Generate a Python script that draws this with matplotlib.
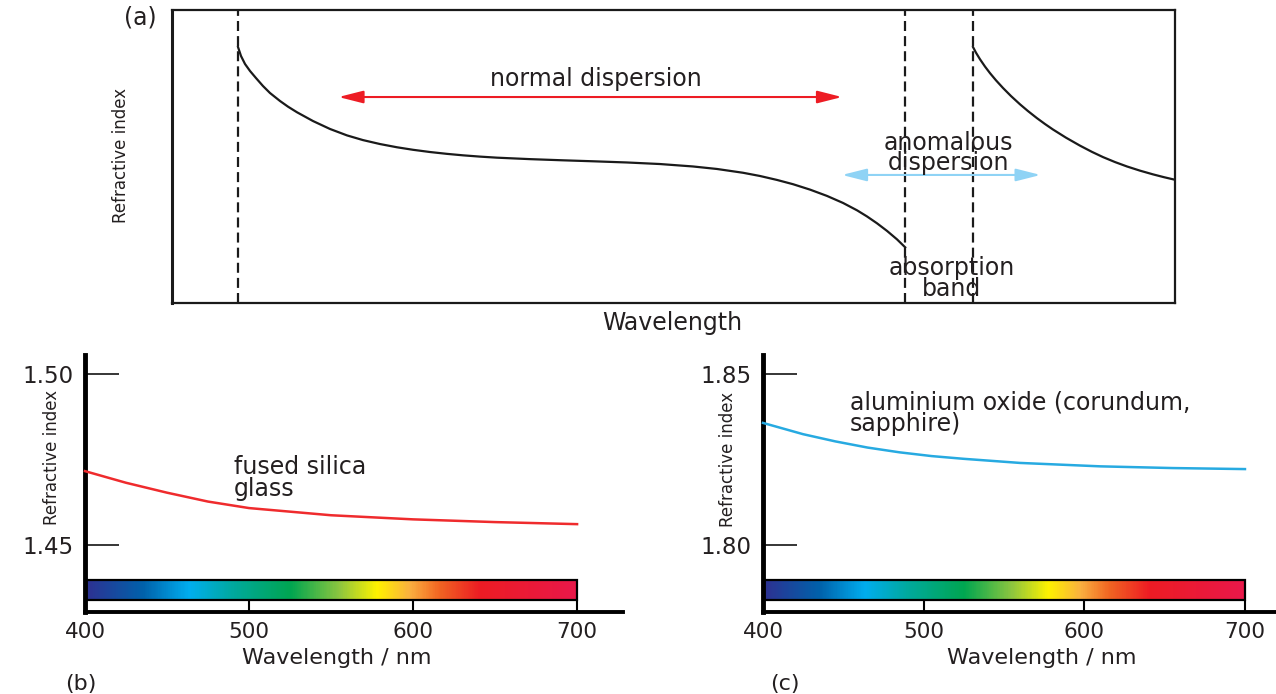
import matplotlib
matplotlib.use("Agg")
import matplotlib.pyplot as plt
from matplotlib.colors import LinearSegmentedColormap
from matplotlib.patches import Rectangle
import numpy as np

W, H = 1276, 694

# (a) schematic dispersion curve, arbitrary units on both axes (0-100)
band_edges = [6.6, 73.1, 79.9]
normal_x = [6.58, 6.88, 7.28, 7.78, 8.37, 9.07, 9.77, 10.77, 11.57, 12.46, 14.06,
            15.75, 17.45, 19.04, 20.74, 22.43, 24.03, 25.72, 27.42, 29.01, 30.71,
            32.40, 35.69, 38.98, 41.97, 45.36, 48.65, 51.94, 54.34, 56.93, 58.62,
            60.32, 61.91, 63.61, 65.30, 66.90, 68.30, 69.29, 70.29, 71.29, 72.28, 73.1]
normal_y = [87.37, 84.30, 81.57, 79.18, 76.79, 74.06, 71.67, 68.94, 67.00, 65.10, 62.10,
            59.40, 57.20, 55.60, 54.25, 53.15, 52.29, 51.53, 50.90, 50.40, 49.96,
            49.60, 49.10, 48.70, 48.37, 47.96, 47.43, 46.60, 45.74, 44.45, 43.35,
            42.00, 40.55, 38.70, 36.55, 34.15, 31.63, 29.55, 27.20, 24.60, 21.73, 19.00]
beyond_x = [79.86, 80.16, 80.56, 81.06, 81.56, 82.15, 82.85, 83.65, 84.55, 85.34, 86.24,
            87.04, 87.84, 89.13, 90.53, 91.72, 92.82, 94.02, 95.21, 96.51, 97.81, 98.90,
            100.0]
beyond_y = [87.37, 85.42, 83.18, 80.68, 78.43, 76.01, 73.39, 70.63, 67.80, 65.51, 63.08,
            61.08, 59.20, 56.43, 53.70, 51.58, 49.80, 48.10, 46.60, 45.17, 43.90, 42.94,
            42.06]
normal_span = (16.6, 66.8, 70.3)      # x from, x to, y
anomalous_span = (66.8, 86.6, 43.7)

# (b) fused silica glass
silica_nm = [400, 425, 450, 475, 500, 550, 600, 650, 700]
silica_n = [1.4716, 1.4682, 1.4653, 1.4627, 1.4608, 1.4587, 1.4575, 1.4567, 1.4561]

# (c) aluminium oxide
alumina_nm = [400, 425, 445, 465, 485, 505, 525, 560, 610, 655, 700]
alumina_n = [1.8357, 1.8324, 1.8303, 1.8285, 1.8271, 1.8260, 1.8252, 1.8240,
             1.8230, 1.8225, 1.8222]

wl_ticks = [400, 500, 600, 700]
spectrum_stops = [
    (400, "#2e3192"), (435, "#0062ab"), (463, "#00aeef"), (490, "#00a99d"),
    (525, "#00a651"), (555, "#8dc63f"), (578, "#fff200"), (598, "#fbb040"),
    (616, "#f26522"), (641, "#ed1c24"), (700, "#e9184a"),
]

INK = "#231f20"
plt.rcParams.update({"font.family": "DejaVu Sans", "font.size": 17, "text.color": INK})
narrow = ["Liberation Sans Narrow", "DejaVu Sans"]


def rect(x0, y0, x1, y1):
    return [x0 / W, 1 - y1 / H, (x1 - x0) / W, (y1 - y0) / H]


def fxy(x, y):
    return x / W, 1 - y / H


fig = plt.figure(figsize=(W / 100, H / 100), dpi=100)

# ---- panel (a)
ax = fig.add_axes(rect(172, 10, 1175, 303))
ax.set_xlim(0, 100)
ax.set_ylim(0, 100)
ax.set_xticks([])
ax.set_yticks([])
for s in ax.spines.values():
    s.set_linewidth(1.6)
    s.set_color("#1a1a1a")
ax.spines["left"].set_linewidth(2.2)
for xe in band_edges:
    ax.axvline(xe, color="#1a1a1a", lw=1.6, linestyle=(0, (4.5, 2.3)))
ax.plot(normal_x, normal_y, color="#1a1a1a", lw=1.6, solid_joinstyle="round")
ax.plot(beyond_x, beyond_y, color="#1a1a1a", lw=1.6, solid_joinstyle="round")
for (xa, xb, yy), col in [(normal_span, "#ed1c24"), (anomalous_span, "#8fd3f5")]:
    ax.annotate("", xy=(xb, yy), xytext=(xa, yy),
                arrowprops=dict(arrowstyle="<|-|>,head_length=1.5,head_width=0.38",
                                color=col, lw=1.5, shrinkA=0, shrinkB=0,
                                mutation_scale=10))
ax.text(42.3, 76.5, "normal dispersion", ha="center", va="center")
ax.text(77.4, 51.2, "anomalous\ndispersion", ha="center", va="center", linespacing=0.77)
ax.text(77.7, 8.4, "absorption\nband", ha="center", va="center", linespacing=0.81)
fig.text(*fxy(672, 323), "Wavelength", ha="center", va="center")
fig.text(*fxy(121, 155), "Refractive index", rotation=90, ha="center", va="center",
         family=narrow, fontsize=12)
fig.text(*fxy(140, 18), "(a)", ha="center", va="center")

# ---- panels (b) and (c)
spec_cmap = LinearSegmentedColormap.from_list(
    "spectrum", [((w - 400) / 300, c) for w, c in spectrum_stops])
grad = np.linspace(0, 1, 600)[None, :]


def spectrum_panel(box, xmax, ylim, yticks, nm, n, colour):
    ax = fig.add_axes(rect(*box))
    y0, y1 = ylim
    cb_lo = y0 + (y1 - y0) * 0.0467
    cb_hi = y0 + (y1 - y0) * 0.1245
    ax.imshow(grad, extent=(400, 700, cb_lo, cb_hi), aspect="auto", cmap=spec_cmap,
              zorder=2)
    ax.add_patch(Rectangle((400, cb_lo), 300, cb_hi - cb_lo, fill=False, lw=1.6,
                           ec="black", zorder=3))
    ax.plot(nm, n, color=colour, lw=1.8, zorder=4, clip_on=False,
            solid_joinstyle="round")
    ax.set_xlim(400, xmax)
    ax.set_ylim(y0, y1)
    ax.spines[["top", "right"]].set_visible(False)
    ax.spines["left"].set_linewidth(3.5)
    ax.spines["bottom"].set_linewidth(2.8)
    ax.set_xticks(wl_ticks, [str(t) for t in wl_ticks])
    ax.set_yticks(yticks, [f"{t:.2f}" for t in yticks])
    ax.tick_params(axis="x", direction="in", length=8.6, width=1.5, pad=7, colors="black",
                   labelcolor=INK, labelsize=15.5)
    ax.tick_params(axis="y", direction="in", length=24.5, width=1.1, pad=8, colors="black",
                   labelcolor=INK, labelsize=16.5)
    return ax


spectrum_panel((85, 355, 623, 612), 728, (1.43041, 1.50556), [1.45, 1.50],
               silica_nm, silica_n, "#ef2b2d")
spectrum_panel((763, 355, 1275, 612), 718.7, (1.78041, 1.85556), [1.80, 1.85],
               alumina_nm, alumina_n, "#27aae1")

fig.text(*fxy(234, 478), "fused silica\nglass", ha="left", va="center", linespacing=0.88)
fig.text(*fxy(850, 413), "aluminium oxide (corundum,\nsapphire)", ha="left", va="center",
         linespacing=0.85)
fig.text(*fxy(337, 658), "Wavelength / nm", ha="center", va="center", fontsize=16)
fig.text(*fxy(1042, 658), "Wavelength / nm", ha="center", va="center", fontsize=16)
fig.text(*fxy(52, 457), "Refractive index", rotation=90, ha="center", va="center",
         family=narrow, fontsize=12)
fig.text(*fxy(728, 459), "Refractive index", rotation=90, ha="center", va="center",
         family=narrow, fontsize=12)
fig.text(*fxy(81, 684), "(b)", ha="center", va="center", fontsize=16)
fig.text(*fxy(785, 684), "(c)", ha="center", va="center", fontsize=16)

fig.savefig("out.png", dpi=100)
